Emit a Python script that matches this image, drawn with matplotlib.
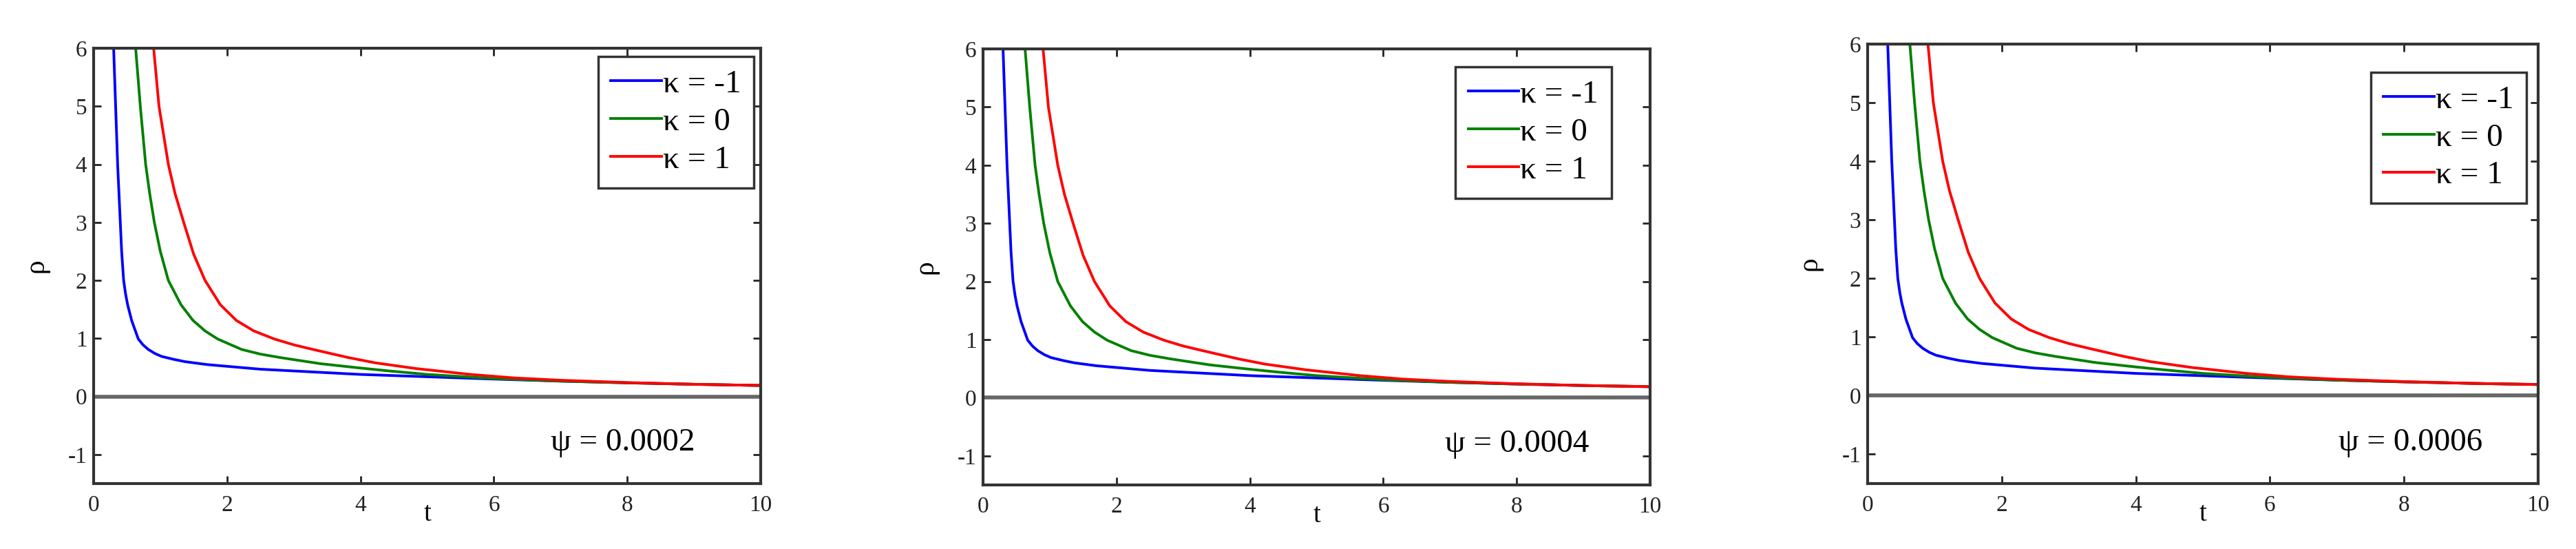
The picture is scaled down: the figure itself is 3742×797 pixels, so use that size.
import numpy as np
import matplotlib.pyplot as plt

plt.rcParams['font.family'] = ['Liberation Serif', 'DejaVu Serif']
plt.rcParams['axes.unicode_minus'] = False

# valeurs (les trois panneaux sont quasi identiques)
psi_labels = ['ψ = 0.0002', 'ψ = 0.0004', 'ψ = 0.0006']
kappa_labels = ['κ = -1', 'κ = 0', 'κ = 1']
kappa_colors = ['b', (0, 0.5, 0), 'r']

t_km1 = [0.29, 0.30, 0.33, 0.36, 0.40, 0.42, 0.45, 0.48, 0.51, 0.57, 0.67, 0.74,
         0.82, 0.92, 1.02, 1.20, 1.37, 1.70, 2.10, 2.50, 3.00, 3.50, 4.00, 5.00,
         6.00, 7.00, 8.00, 9.00, 10.0]
rho_km1 = [6.5, 6.0, 5.0, 4.0, 3.0, 2.5, 2.0, 1.76, 1.58, 1.31, 0.99, 0.89,
           0.81, 0.74, 0.69, 0.64, 0.60, 0.55, 0.51, 0.47, 0.44, 0.41, 0.38, 0.34,
           0.30, 0.265, 0.235, 0.21, 0.19]

t_k0 = [0.62, 0.63, 0.70, 0.78, 0.84, 0.91, 1.00, 1.12, 1.31, 1.49, 1.67, 1.86,
        2.22, 2.50, 2.80, 3.40, 4.00, 4.43, 5.00, 6.00, 7.00, 8.00, 9.00, 10.0]
rho_k0 = [6.2, 6.0, 5.0, 4.0, 3.5, 3.0, 2.5, 2.0, 1.58, 1.31, 1.13, 0.99,
          0.81, 0.73, 0.67, 0.565, 0.49, 0.44, 0.38, 0.31, 0.265, 0.235, 0.21, 0.19]

t_k1 = [0.88, 0.90, 0.98, 1.12, 1.22, 1.35, 1.50, 1.67, 1.90, 2.14, 2.40, 2.71,
        3.00, 3.29, 3.82, 4.22, 4.84, 5.65, 6.30, 7.00, 8.00, 9.00, 10.0]
rho_k1 = [6.5, 6.0, 5.0, 4.0, 3.5, 3.0, 2.45, 2.0, 1.58, 1.31, 1.13, 0.99,
          0.89, 0.81, 0.67, 0.58, 0.48, 0.38, 0.32, 0.28, 0.24, 0.21, 0.19]

curves = [(t_km1, rho_km1), (t_k0, rho_k0), (t_k1, rho_k1)]

xticks = [0, 2, 4, 6, 8, 10]
yticks = [-1, 0, 1, 2, 3, 4, 5, 6]

fig = plt.figure(figsize=(37.42, 7.97), dpi=100)

# position des axes (fraction de la figure) et de la légende
axes_pos = [[0.03634, 0.1192, 0.2590, 0.7930],
            [0.38161, 0.1167, 0.2590, 0.7942],
            [0.72501, 0.1192, 0.2603, 0.8005]]
leg_anchor = [(0.990, 0.981), (0.942, 0.959), (0.983, 0.936)]
psi_x = [6.85, 6.92, 7.02]

for i in range(3):
    ax = fig.add_axes(axes_pos[i])
    for (t, rho), lab, col in zip(curves, kappa_labels, kappa_colors):
        ax.plot(t, rho, color=col, lw=2.8, label=lab, solid_joinstyle='round')
    ax.axhline(0, color='#666666', lw=4)

    ax.set_xlim(0, 10)
    ax.set_ylim(-1.5, 6)
    ax.set_xticks(xticks)
    ax.set_yticks(yticks)
    ax.tick_params(direction='in', top=True, right=True, length=8, width=2,
                   labelsize=24, colors='#222222')
    ax.tick_params(axis='x', pad=12)
    ax.tick_params(axis='y', pad=7)
    for s in ax.spines.values():
        s.set_linewidth(3)
        s.set_color('#333333')

    ax.set_xlabel('t', fontsize=28)
    ax.xaxis.set_label_coords(0.5, -0.041)
    ax.set_ylabel('ρ', fontsize=30)
    ax.yaxis.set_label_coords(-0.067, 0.5)

    leg = ax.legend(loc='upper right', bbox_to_anchor=leg_anchor[i],
                    borderaxespad=0, fontsize=34, fancybox=False,
                    framealpha=1, edgecolor='#333333', handlelength=1.55,
                    handletextpad=0.05, labelspacing=0.25, borderpad=0.4)
    leg.get_frame().set_linewidth(2.5)

    ax.text(psi_x[i], -0.8, psi_labels[i], fontsize=34, va='center', ha='left')

fig.savefig('out.png', dpi=100)
